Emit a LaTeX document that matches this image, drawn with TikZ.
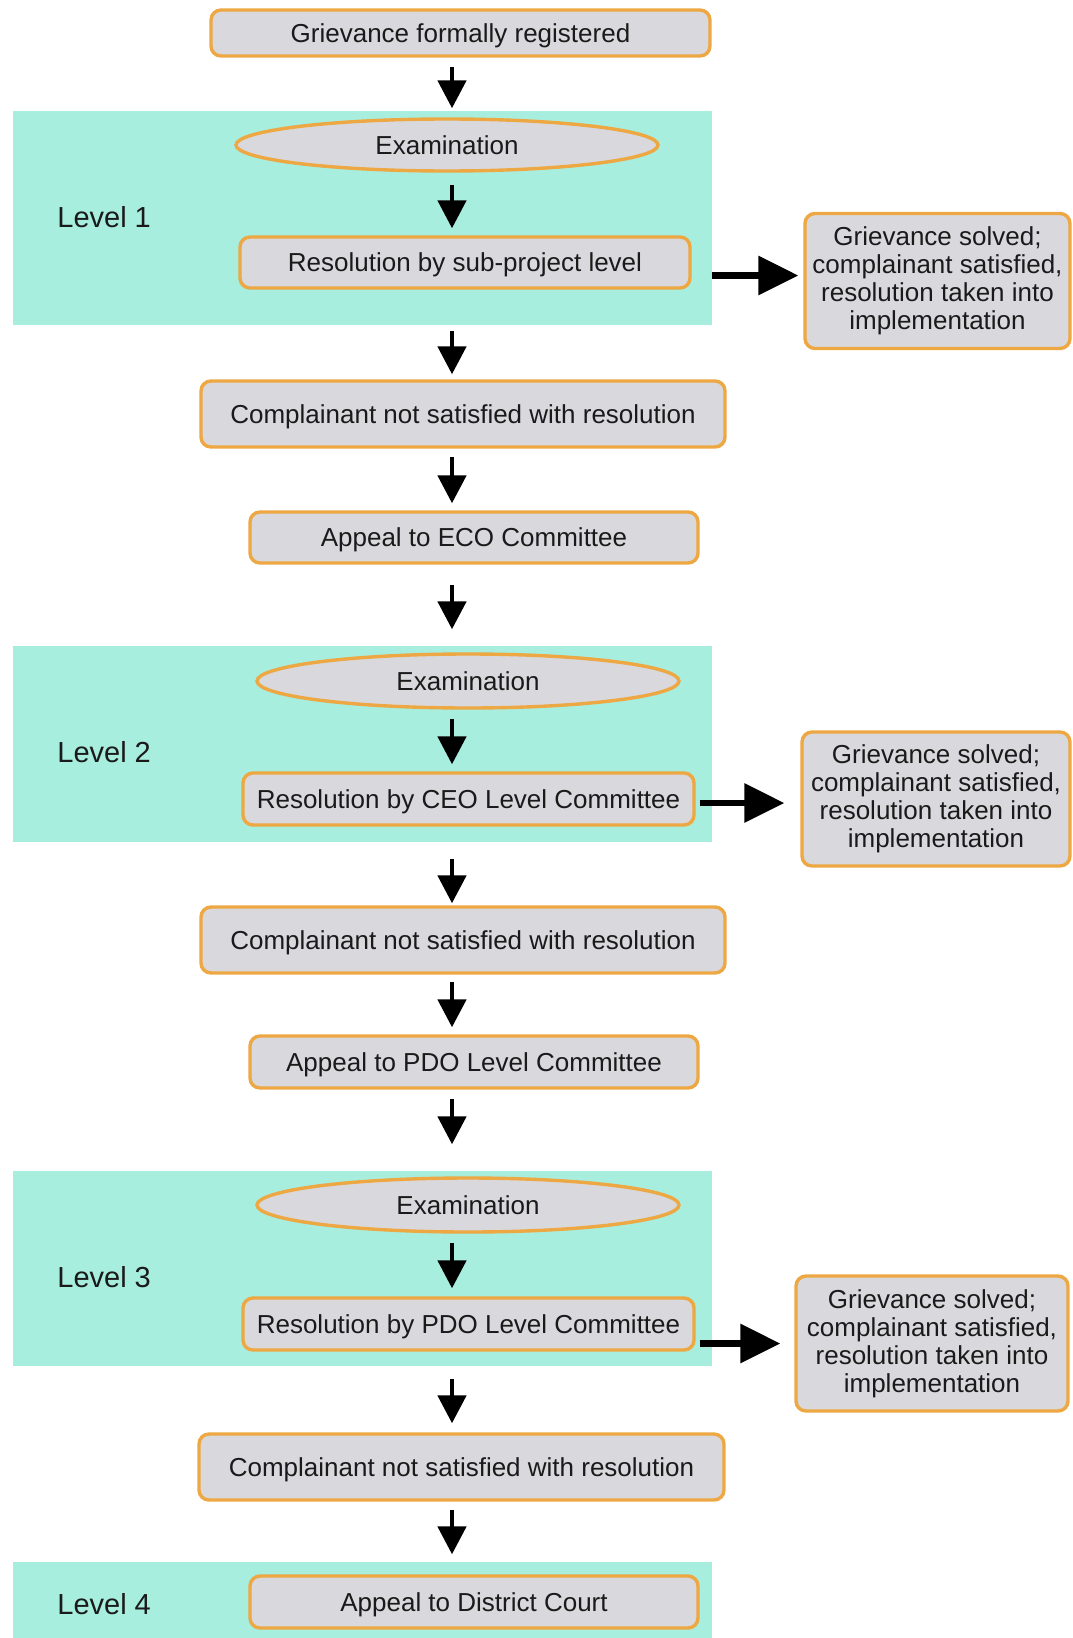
\documentclass[tikz,border=0pt]{standalone}
\usepackage{fontspec}
\setmainfont{Liberation Sans}
\usetikzlibrary{arrows.meta,shapes.geometric}

\definecolor{panel}{HTML}{A8EEDF}
\definecolor{boxfill}{HTML}{D9D9DD}
\definecolor{boxline}{HTML}{EDA743}
\definecolor{ink}{HTML}{1A1A1A}

\tikzset{
  sz/.style 2 args={minimum width=#1*0.5pt, minimum height=#2*0.5pt},
  boxbase/.style={draw=boxline, fill=boxfill, line width=1.7pt,
    inner sep=0pt, text=ink, font=\fontsize{13}{14}\selectfont},
  stepbox/.style={boxbase, rounded corners=5pt, text height=9.3pt, text depth=0pt},
  outbox/.style={boxbase, rounded corners=5pt, align=center},
  exambox/.style={boxbase, ellipse, text height=9.3pt, text depth=0pt},
  lvl/.style={anchor=west, inner sep=0pt, text=ink, font=\fontsize{14.5}{16}\selectfont},
  darr/.style={-{Triangle[length=14pt,width=14pt]}, line width=2.4pt},
  harr/.style={-{Triangle[length=20pt,width=19pt]}, line width=3.2pt},
}

\begin{document}
\begin{tikzpicture}[x=0.5pt, y=-0.5pt]
\useasboundingbox (0,0) rectangle (1072,1638);

% level panels
\fill[panel] (12.5,111) rectangle (712,325);
\fill[panel] (12.5,646) rectangle (712,842);
\fill[panel] (12.5,1171) rectangle (712,1366);
\fill[panel] (12.5,1562) rectangle (712,1638);

\node[lvl] (l1) at (57,217) {Level 1};
\node[lvl] (l2) at (57,752) {Level 2};
\node[lvl] (l3) at (57,1277) {Level 3};
\node[lvl] (l4) at (57,1604) {Level 4};

% main column
\node[stepbox, sz={499}{46}] (top) at (460.5,33) {Grievance formally registered};

\node[exambox, sz={422}{52}] (ell1) at (447,145) {Examination};
\node[stepbox, sz={450}{51}] (res1) at (465,262.5) {Resolution by sub-project level};
\node[stepbox, sz={524}{66}] (comp1) at (463,414) {Complainant not satisfied with resolution};
\node[stepbox, sz={448}{51}] (eco) at (474,537.5) {Appeal to ECO Committee};

\node[exambox, sz={422}{54}] (ell2) at (468,681) {Examination};
\node[stepbox, sz={451}{52}] (res2) at (468.5,799) {Resolution by CEO Level Committee};
\node[stepbox, sz={524}{66}] (comp2) at (463,940) {Complainant not satisfied with resolution};
\node[stepbox, sz={448}{52}] (pdo) at (474,1062) {Appeal to PDO Level Committee};

\node[exambox, sz={422}{54}] (ell3) at (468,1205) {Examination};
\node[stepbox, sz={451}{52}] (res3) at (468.5,1324) {Resolution by PDO Level Committee};
\node[stepbox, sz={525}{66}] (comp3) at (461.5,1467) {Complainant not satisfied with resolution};
\node[stepbox, sz={448}{52}] (court) at (474,1602) {Appeal to District Court};

% outcome boxes
\node[outbox, sz={265}{135}] (rb1) at (937.5,281) {Grievance solved;\\complainant satisfied,\\resolution taken into\\implementation};
\node[outbox, sz={268}{134}] (rb2) at (936,799) {Grievance solved;\\complainant satisfied,\\resolution taken into\\implementation};
\node[outbox, sz={272}{135}] (rb3) at (932,1343.5) {Grievance solved;\\complainant satisfied,\\resolution taken into\\implementation};

% vertical flow
\coordinate (ax) at (452,0);
\draw[darr, shorten <=4.5pt, shorten >=4.5pt] (top.south -| ax) -- (ell1.north -| ax);
\draw[darr, shorten <=6pt, shorten >=3.5pt] (ell1.south -| ax) -- (res1.north -| ax);
\draw[darr, shorten <=20.5pt, shorten >=2.5pt] (res1.south -| ax) -- (comp1.north -| ax);
\draw[darr, shorten <=4pt, shorten >=3.5pt] (comp1.south -| ax) -- (eco.north -| ax);
\draw[darr, shorten <=10pt, shorten >=11.5pt] (eco.south -| ax) -- (ell2.north -| ax);
\draw[darr, shorten <=4.5pt, shorten >=3.5pt] (ell2.south -| ax) -- (res2.north -| ax);
\draw[darr, shorten <=16pt, shorten >=1pt] (res2.south -| ax) -- (comp2.north -| ax);
\draw[darr, shorten <=3.5pt, shorten >=3.5pt] (comp2.south -| ax) -- (pdo.north -| ax);
\draw[darr, shorten <=4.5pt, shorten >=16pt] (pdo.south -| ax) -- (ell3.north -| ax);
\draw[darr, shorten <=4.5pt, shorten >=4pt] (ell3.south -| ax) -- (res3.north -| ax);
\draw[darr, shorten <=13.5pt, shorten >=4.5pt] (res3.south -| ax) -- (comp3.north -| ax);
\draw[darr, shorten <=4pt, shorten >=10pt] (comp3.south -| ax) -- (court.north -| ax);

% outcome arrows
\draw[harr, shorten <=10pt, shorten >=2.5pt] ([yshift=2.75pt]res1.east |- rb1.west) -- ([yshift=2.75pt]rb1.west);
\draw[harr, shorten <=2pt, shorten >=8pt] ([yshift=-2pt]res2.east |- rb2.west) -- ([yshift=-2pt]rb2.west);
\draw[harr, shorten <=2pt, shorten >=7pt] (res3.east |- rb3.west) -- (rb3.west);
\end{tikzpicture}
\end{document}
